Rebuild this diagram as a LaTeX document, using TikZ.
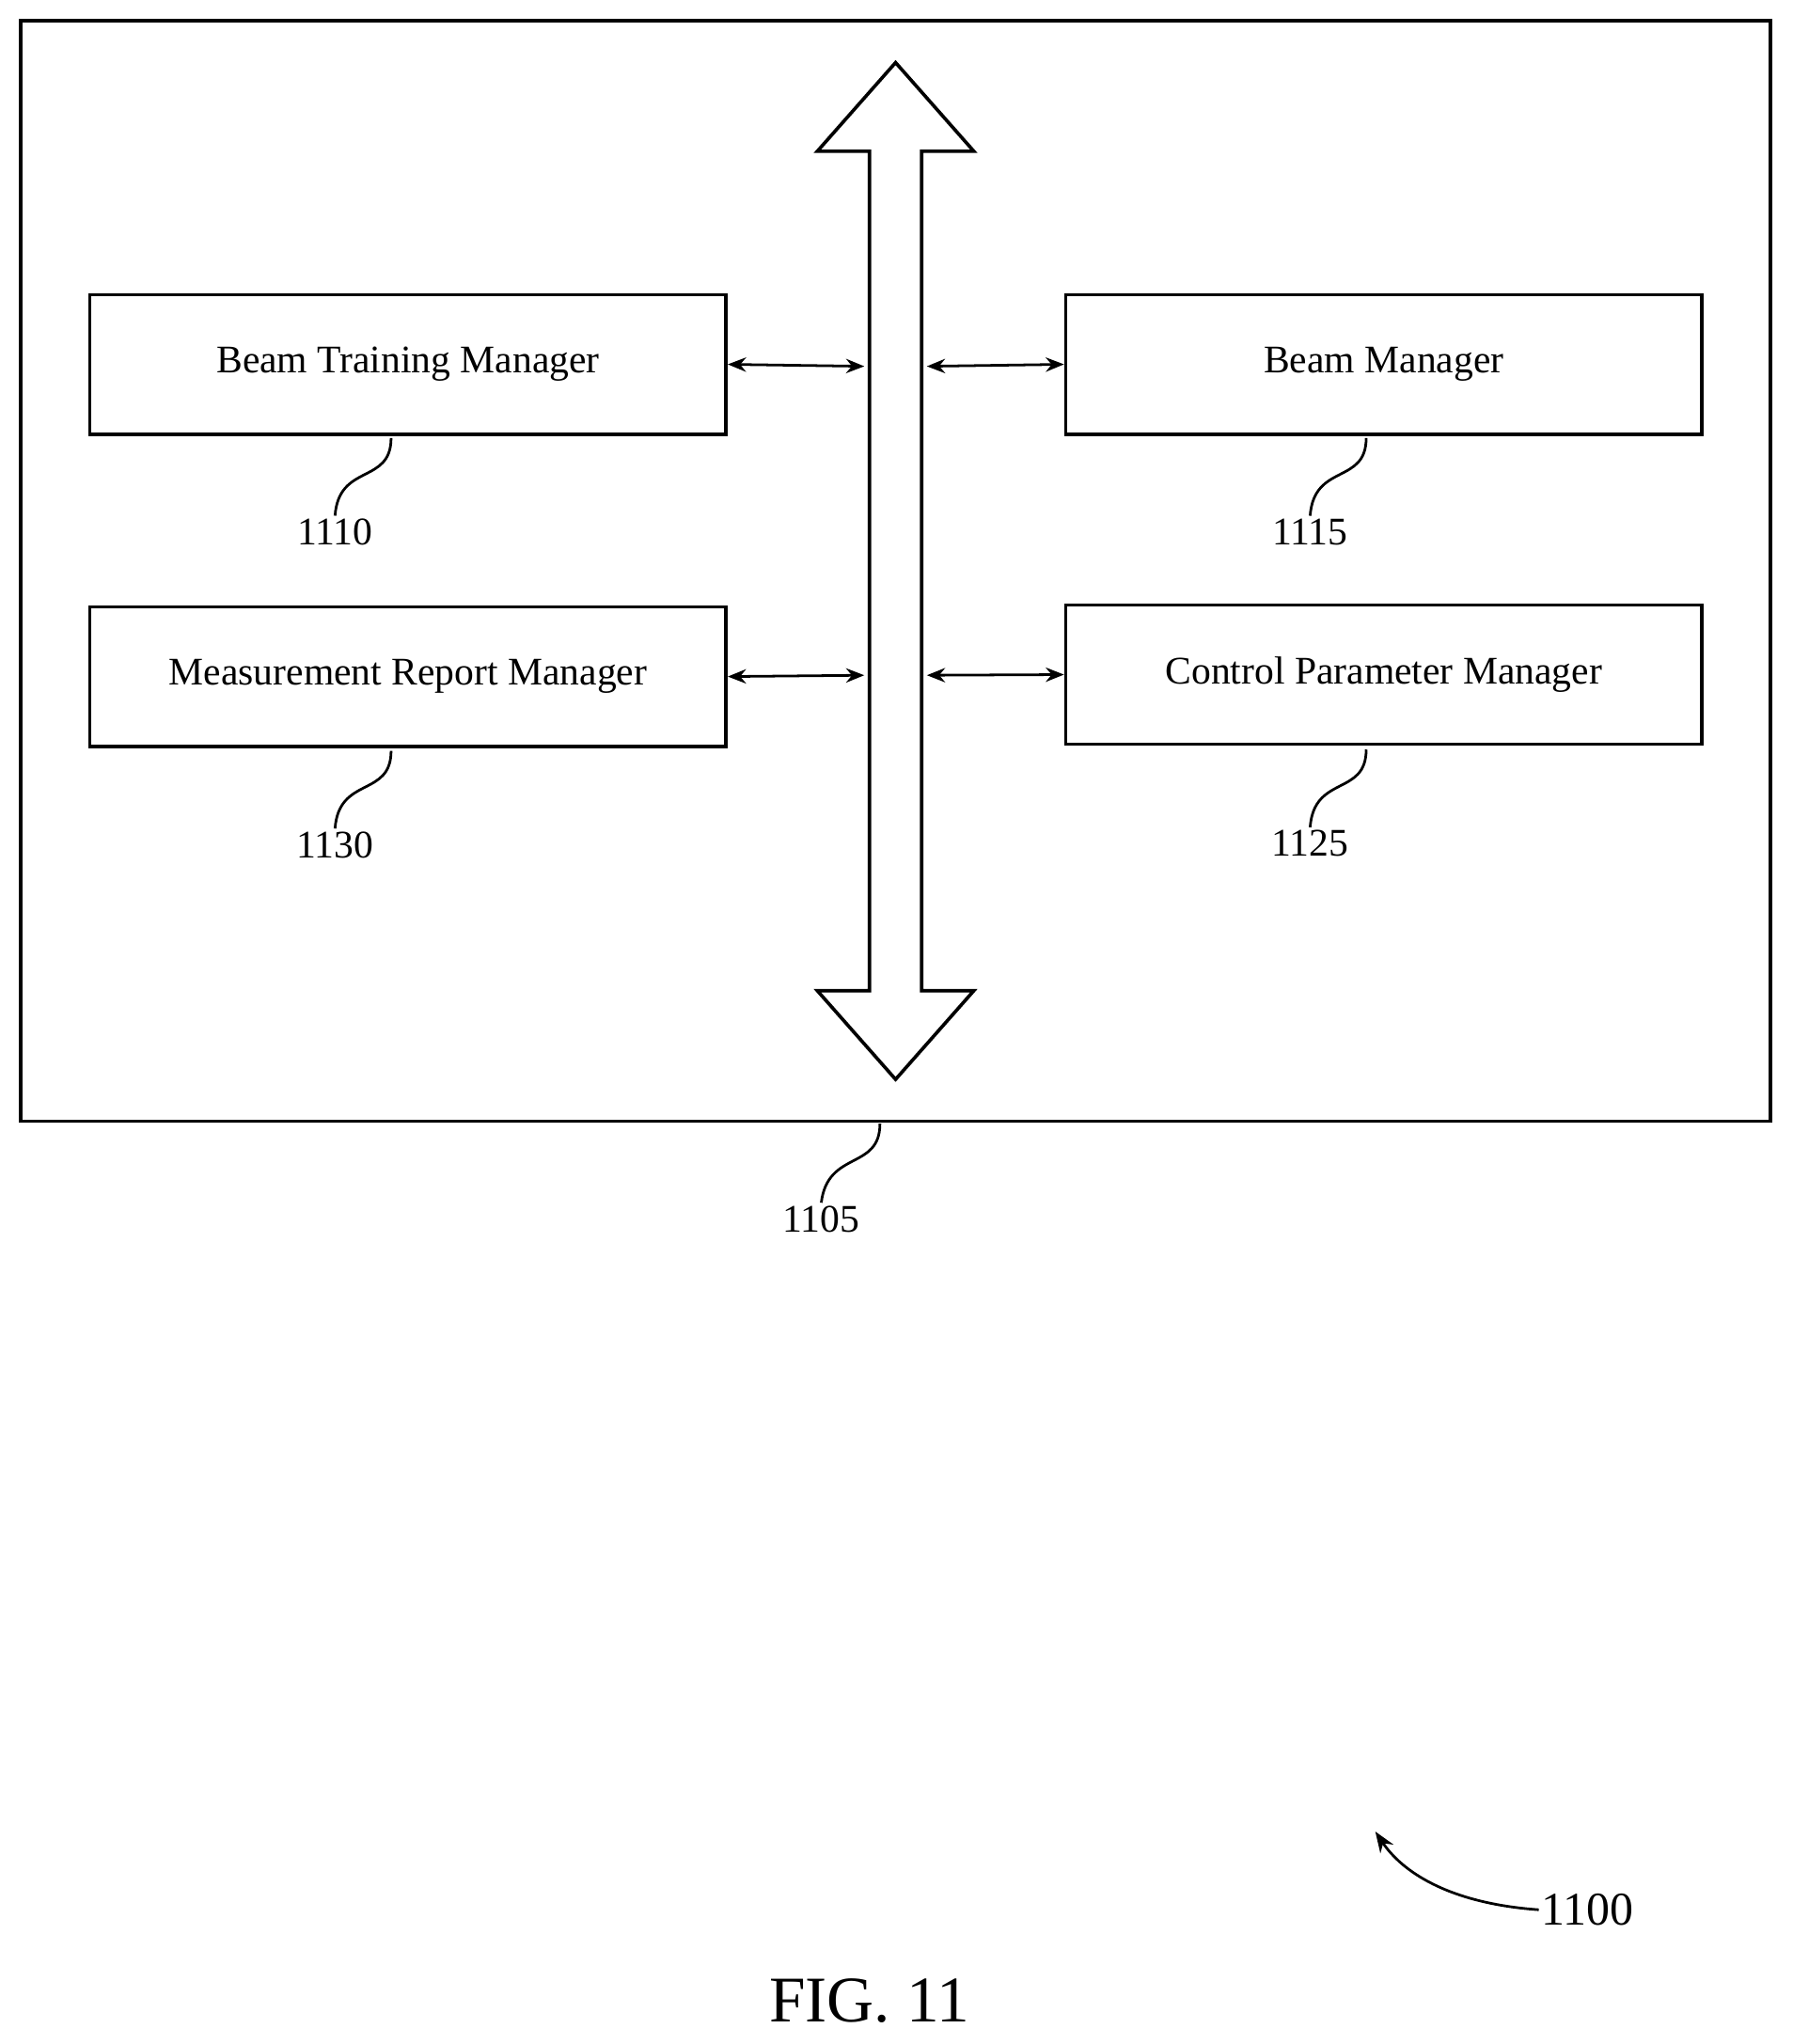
\documentclass[tikz,border=0pt]{standalone}
\usepackage{fontspec}
\setmainfont{Liberation Serif}
\usetikzlibrary{arrows.meta}
\begin{document}
\begin{tikzpicture}[x=1pt,y=-1pt,line width=2.6pt,
  box/.style={draw,minimum width=488pt,minimum height=107pt,inner sep=0pt,font=\fontsize{30}{34}\selectfont},
  lbl/.style={font=\fontsize{30}{34}\selectfont,inner sep=1pt},
  lead/.style={line width=2pt},
  dbl/.style={line width=2pt,{Stealth[length=14pt,width=11pt]}-{Stealth[length=14pt,width=11pt]}}]
\useasboundingbox (0,0) rectangle (1375,1568);
\draw (16,16) rectangle (1358,860);
\draw[line join=miter] (667,116) -- (627,116) -- (687,48) -- (747,116) -- (707,116) -- (707,760) -- (747,760) -- (687,828) -- (627,760) -- (667,760) -- cycle;
\node[box] (btm) at (313,279.5) {Beam Training Manager};
\node[box] (bm) at (1061.5,279.5) {Beam Manager};
\node[box] (mrm) at (313,519) {Measurement Report Manager};
\node[box] (cpm) at (1061.5,517.5) {Control Parameter Manager};
\coordinate (l1) at (663,281); \coordinate (r1) at (711,281);
\coordinate (l2) at (663,518); \coordinate (r2) at (711,518);
\draw[dbl] (btm.east) -- (l1);
\draw[dbl] (r1) -- (bm.west);
\draw[dbl] (mrm.east) -- (l2);
\draw[dbl] (r2) -- (cpm.west);
\node[lbl] (n1110) at (257,408) {1110};
\node[lbl] (n1115) at (1005,408) {1115};
\node[lbl] (n1130) at (257,648) {1130};
\node[lbl] (n1125) at (1005,647) {1125};
\node[lbl] (n1105) at (630,935) {1105};
\node[lbl,font=\fontsize{36}{40}\selectfont] (n1100) at (1218,1465) {1100};
\node[font=\fontsize{50}{56}\selectfont] (fig) at (667,1535) {FIG. 11};
\draw[lead] (300,336) .. controls (300,372) and (260,355) .. (n1110.north);
\draw[lead] (1048,336) .. controls (1048,372) and (1008,355) .. (n1115.north);
\draw[lead] (300,576) .. controls (300,612) and (260,595) .. (n1130.north);
\draw[lead] (1048,575) .. controls (1048,611) and (1008,594) .. (n1125.north);
\draw[lead] (675,862) .. controls (675,898) and (635,882) .. (n1105.north);
\draw[lead,-{Stealth[length=16pt,width=12pt]}] (n1100.west) .. controls (1110,1460) and (1075,1435) .. (1055,1405);
\end{tikzpicture}
\end{document}
